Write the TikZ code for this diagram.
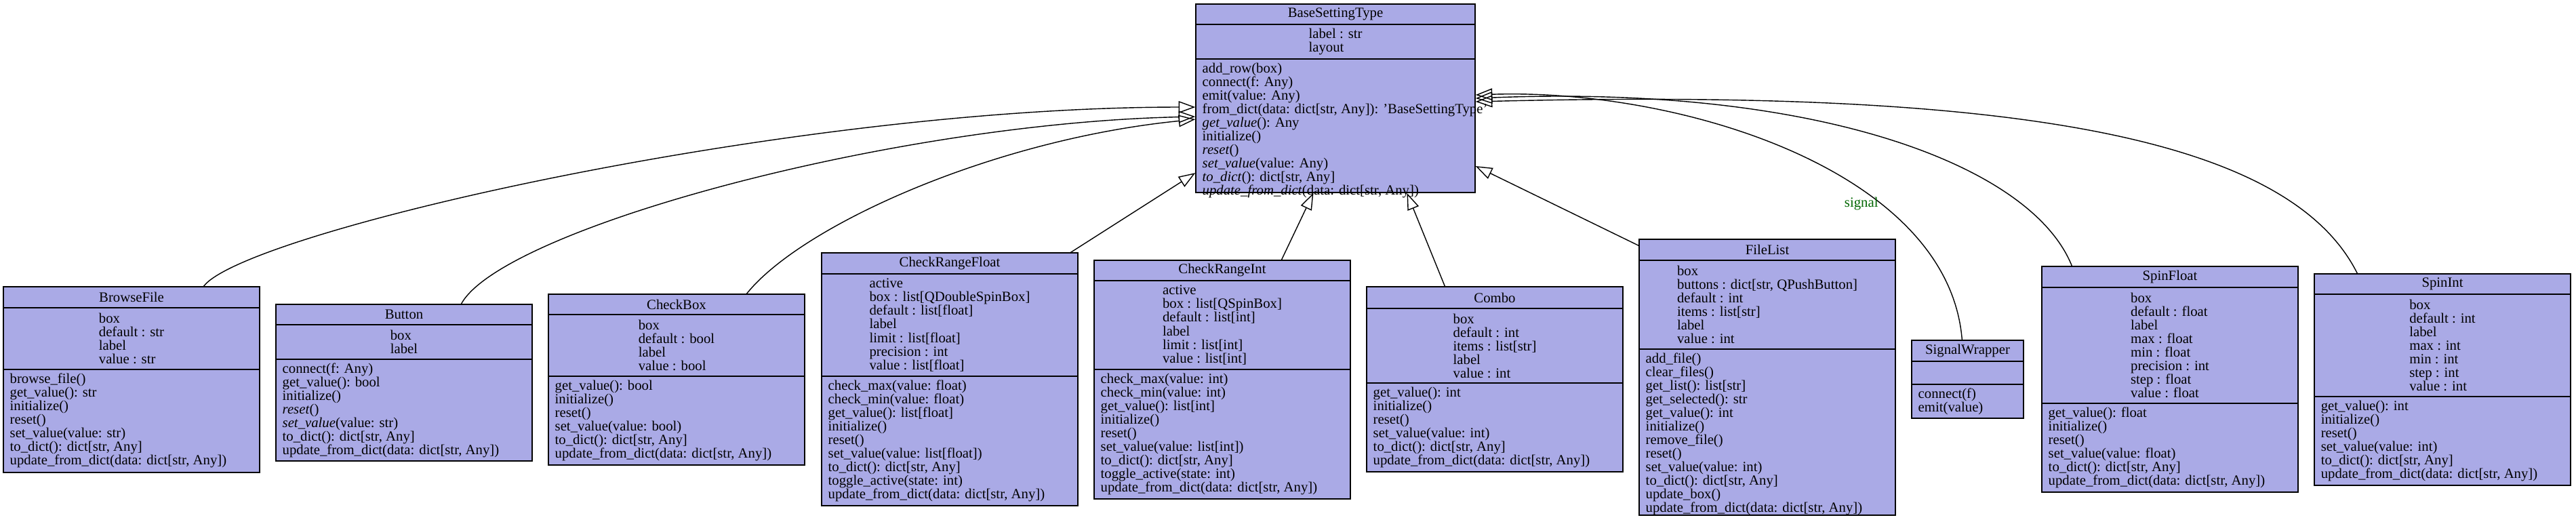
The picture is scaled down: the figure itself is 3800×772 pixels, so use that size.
\documentclass[tikz,border=0pt]{standalone}
\usepackage{fontspec}
\setmainfont{Liberation Serif}
\usetikzlibrary{arrows.meta,fit}

\definecolor{umlfill}{RGB}{170,170,230}

\tikzset{
    umlbox/.style={draw, fill=umlfill, inner sep=0pt},
    inh/.style={-{Triangle[open,length=7pt,width=5pt]}, thin},
    txt/.style={inner sep=0pt, font=\fontsize{5.9}{5.69}\selectfont, align=left},
}

% class box: id, left, right, top, header line, attribute line, bottom, title, attributes
\newcommand{\umlclass}[9]{%
    \node[umlbox, fit={(#2,#4) (#3,#7)}] (#1) {};
    \draw (#2,#5) -- (#3,#5);
    \draw (#2,#6) -- (#3,#6);
    \node[txt] at ({(#2+#3)/2},{(#4+#5)/2}) {#8};
    \node[txt] at ({(#2+#3)/2},{(#5+#6)/2}) {#9};
    \coordinate (#1-m) at ({#2+9},{#6+5});
}
\newcommand{\umlmeth}[2]{\node[txt, anchor=north west] at (#1-m) {#2};}

\begin{document}
\begin{tikzpicture}[x=0.01cm, y=-0.01cm]
    \useasboundingbox (0,0) rectangle (3800,772);

    % base class
    \umlclass{base}{1764}{2176}{6}{36}{87}{284}{BaseSettingType}{label : str\\layout}
    \umlmeth{base}{add\_row(box)\\connect(f: Any)\\emit(value: Any)\\from\_dict(data: dict[str, Any]): 'BaseSettingType'\\
        \textit{get\_value}(): Any\\initialize()\\\textit{reset}()\\\textit{set\_value}(value: Any)\\
        \textit{to\_dict}(): dict[str, Any]\\\textit{update\_from\_dict}(data: dict[str, Any])}

    % derived classes
    \umlclass{bf}{5}{383}{423}{454}{545}{697}{BrowseFile}{box\\default : str\\label\\value : str}
    \umlmeth{bf}{browse\_file()\\get\_value(): str\\initialize()\\reset()\\set\_value(value: str)\\to\_dict(): dict[str, Any]\\update\_from\_dict(data: dict[str, Any])}

    \umlclass{bt}{407}{785}{449}{479}{530}{680}{Button}{box\\label}
    \umlmeth{bt}{connect(f: Any)\\get\_value(): bool\\initialize()\\\textit{reset}()\\\textit{set\_value}(value: str)\\to\_dict(): dict[str, Any]\\update\_from\_dict(data: dict[str, Any])}

    \umlclass{cb}{809}{1187}{434}{464}{555}{686}{CheckBox}{box\\default : bool\\label\\value : bool}
    \umlmeth{cb}{get\_value(): bool\\initialize()\\reset()\\set\_value(value: bool)\\to\_dict(): dict[str, Any]\\update\_from\_dict(data: dict[str, Any])}

    \umlclass{crf}{1212}{1590}{373}{404}{555}{746}{CheckRangeFloat}{active\\box : list[QDoubleSpinBox]\\default : list[float]\\label\\limit : list[float]\\precision : int\\value : list[float]}
    \umlmeth{crf}{check\_max(value: float)\\check\_min(value: float)\\get\_value(): list[float]\\initialize()\\reset()\\set\_value(value: list[float])\\to\_dict(): dict[str, Any]\\toggle\_active(state: int)\\update\_from\_dict(data: dict[str, Any])}

    \umlclass{cri}{1614}{1992}{384}{414}{545}{736}{CheckRangeInt}{active\\box : list[QSpinBox]\\default : list[int]\\label\\limit : list[int]\\value : list[int]}
    \umlmeth{cri}{check\_max(value: int)\\check\_min(value: int)\\get\_value(): list[int]\\initialize()\\reset()\\set\_value(value: list[int])\\to\_dict(): dict[str, Any]\\toggle\_active(state: int)\\update\_from\_dict(data: dict[str, Any])}

    \umlclass{cmb}{2016}{2394}{423}{455}{565}{696}{Combo}{box\\default : int\\items : list[str]\\label\\value : int}
    \umlmeth{cmb}{get\_value(): int\\initialize()\\reset()\\set\_value(value: int)\\to\_dict(): dict[str, Any]\\update\_from\_dict(data: dict[str, Any])}

    \umlclass{fl}{2418}{2796}{353}{384}{515}{760}{FileList}{box\\buttons : dict[str, QPushButton]\\default : int\\items : list[str]\\label\\value : int}
    \umlmeth{fl}{add\_file()\\clear\_files()\\get\_list(): list[str]\\get\_selected(): str\\get\_value(): int\\initialize()\\remove\_file()\\reset()\\set\_value(value: int)\\to\_dict(): dict[str, Any]\\update\_box()\\update\_from\_dict(data: dict[str, Any])}

    \umlclass{sw}{2820}{2985}{502}{533}{567}{617}{SignalWrapper}{}
    \umlmeth{sw}{connect(f)\\emit(value)}

    \umlclass{sf}{3012}{3390}{393}{424}{595}{726}{SpinFloat}{box\\default : float\\label\\max : float\\min : float\\precision : int\\step : float\\value : float}
    \umlmeth{sf}{get\_value(): float\\initialize()\\reset()\\set\_value(value: float)\\to\_dict(): dict[str, Any]\\update\_from\_dict(data: dict[str, Any])}

    \umlclass{si}{3414}{3792}{404}{434}{585}{716}{SpinInt}{box\\default : int\\label\\max : int\\min : int\\step : int\\value : int}
    \umlmeth{si}{get\_value(): int\\initialize()\\reset()\\set\_value(value: int)\\to\_dict(): dict[str, Any]\\update\_from\_dict(data: dict[str, Any])}

    % inheritance
    \draw[inh] ([xshift=2.96cm]bf.north west) .. controls +(60,-80) and +(-600,0) .. ([yshift=-0.13cm]base.west);
    \draw[inh] ([xshift=2.74cm]bt.north west) .. controls +(60,-110) and +(-450,10) .. ([yshift=-0.27cm]base.west);
    \draw[inh] ([xshift=2.93cm]cb.north west) .. controls +(80,-100) and +(-300,30) .. ([yshift=-0.31cm]base.west);
    \draw[inh] ([xshift=3.68cm]crf.north west) -- ([yshift=-1.10cm]base.west);
    \draw[inh] ([xshift=2.77cm]cri.north west) -- ([xshift=1.74cm]base.south west);
    \draw[inh] ([xshift=1.16cm]cmb.north west) -- ([xshift=3.12cm]base.south west);
    \draw[inh] ([yshift=-0.10cm]fl.north west) -- ([yshift=-1.00cm]base.east);
    \draw[inh] ([xshift=0.75cm]sw.north west) .. controls +(-20,-250) and +(300,-10) .. ([yshift=0.05cm]base.east)
        node[pos=0.32, left=1pt, txt, text=green!40!black] (sig) {signal};
    \draw[inh] ([xshift=0.45cm]sf.north west) .. controls +(-60,-150) and +(500,-20) .. ([yshift=0cm]base.east);
    \draw[inh] ([xshift=0.64cm]si.north west) .. controls +(-100,-200) and +(800,-20) .. ([yshift=-0.05cm]base.east);
\end{tikzpicture}
\end{document}
